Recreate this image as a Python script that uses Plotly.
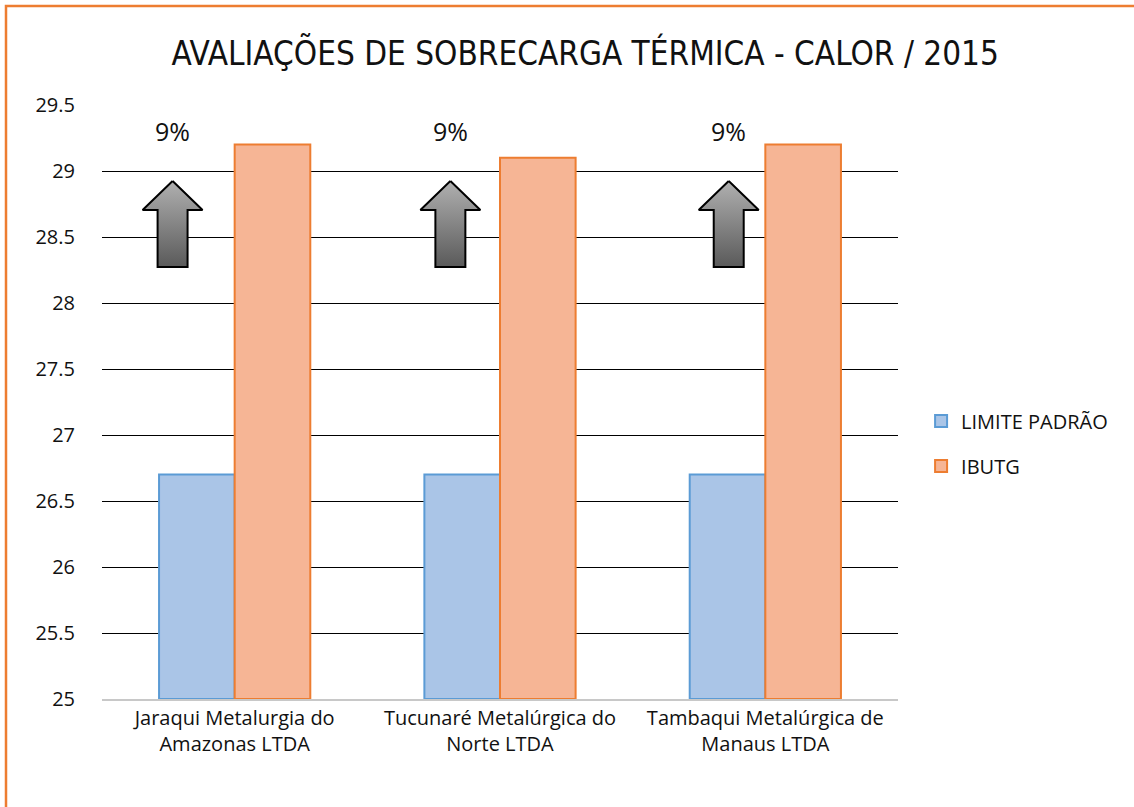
import plotly.graph_objects as go

# ---- data ----
categories = ["Jaraqui Metalurgia do<br>Amazonas LTDA",
              "Tucunaré Metalúrgica do<br>Norte LTDA",
              "Tambaqui Metalúrgica de<br>Manaus LTDA"]
limite_padrao = [26.7, 26.7, 26.7]
ibutg = [29.2, 29.1, 29.2]
pct_labels = ["9%", "9%", "9%"]
arrow_offsets = [-0.234, -0.187, -0.138]   # horizontal offset of arrow from category centre
y_ticks = [25, 25.5, 26, 26.5, 27, 27.5, 28, 28.5, 29, 29.5]

title_text = "AVALIAÇÕES DE SOBRECARGA TÉRMICA - CALOR / 2015"

FONT = "Open Sans, DejaVu Sans, sans-serif"
TITLE_FONT = "Liberation Sans Narrow, DejaVu Sans Condensed, sans-serif"

xs = list(range(len(categories)))

fig = go.Figure()
fig.add_trace(go.Bar(
    x=xs, y=[v - 25 for v in limite_padrao], base=25, name="LIMITE PADRÃO",
    marker=dict(color="#aac5e7", line=dict(color="#5b9bd5", width=2)),
    legendgroup="a", hoverinfo="skip"))
fig.add_trace(go.Bar(
    x=xs, y=[v - 25 for v in ibutg], base=25, name="IBUTG",
    marker=dict(color="#f6b595", line=dict(color="#ed7d31", width=2)),
    legendgroup="b", hoverinfo="skip"))

# arrows (decorative), built relative to category positions
tip_y, head_y, bot_y = 28.924, 28.705, 28.273
head_w, shaft_w = 0.113, 0.0565
for i, off in enumerate(arrow_offsets):
    cx = xs[i] + off
    ax = [cx, cx + head_w, cx + shaft_w, cx + shaft_w, cx - shaft_w, cx - shaft_w, cx - head_w, cx]
    ay = [tip_y, head_y, head_y, bot_y, bot_y, head_y, head_y, tip_y]
    fig.add_trace(go.Scatter(
        x=ax, y=ay, mode="lines", fill="toself",
        fillgradient=dict(type="vertical", colorscale=[[0, "#5a5a5a"], [1, "#b0b0b0"]]),
        line=dict(color="black", width=2), showlegend=False, hoverinfo="skip"))
    fig.add_annotation(x=cx, y=29.3, text=pct_labels[i], showarrow=False,
                       font=dict(size=25, color="#111", family=FONT))

fig.update_layout(
    width=1134, height=807,
    margin=dict(l=102, r=236, t=105, b=108),
    paper_bgcolor="white", plot_bgcolor="white",
    barmode="group", bargap=0.43, bargroupgap=0,
    font=dict(family=FONT, size=20, color="#111"),
    title=dict(text=title_text, x=0.516, xanchor="center", y=1 - 53 / 807, yanchor="middle",
               xref="container", yref="container",
               font=dict(family=TITLE_FONT, size=33, color="#111")),
    legend=dict(x=1.029, xanchor="left", y=0.43, yanchor="middle",
                font=dict(size=20, family=FONT), tracegroupgap=16,
                itemwidth=30, bgcolor="rgba(0,0,0,0)"),
    showlegend=True,
)
fig.update_xaxes(range=[-0.5, 2.5], tickvals=xs, ticktext=categories,
                 showgrid=False, zeroline=False, showline=True, linecolor="#c8c8c8", linewidth=2,
                 ticks="", tickfont=dict(size=20, family=FONT))
fig.update_yaxes(range=[25, 29.5], tickvals=y_ticks, showgrid=True, gridcolor="#000000", gridwidth=1,
                 zeroline=False, showline=False, ticks="outside", ticklen=22, tickcolor="rgba(0,0,0,0)",
                 tickfont=dict(size=20, family=FONT))

# orange outer frame (only top/left visible in the crop)
fig.add_shape(type="rect", xref="paper", yref="paper",
              x0=(6 - 102) / 796, x1=2, y0=-1, y1=(699 - 6) / 594,
              line=dict(color="#ed7d31", width=2.5), layer="below")

fig.write_html("out.html", config={"displayModeBar": False},
               post_script="document.body.style.margin='0';")
